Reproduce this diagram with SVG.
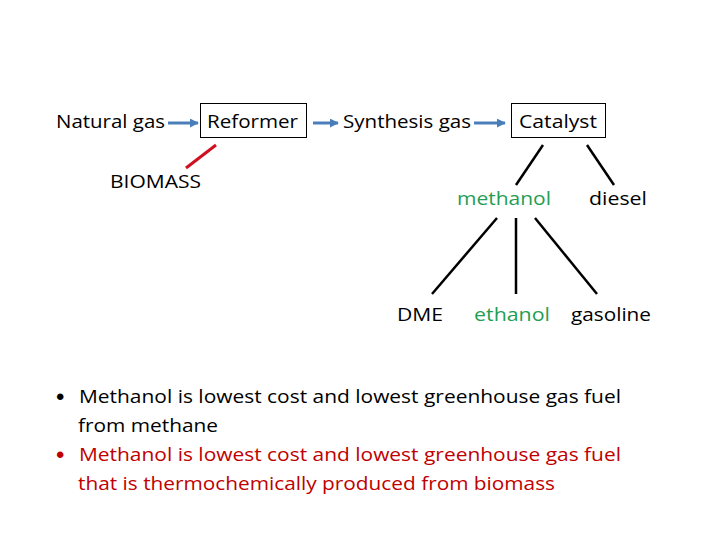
<svg xmlns="http://www.w3.org/2000/svg" width="720" height="540" viewBox="0 0 720 540">
<style>
text{font-family:"Open Sans","Liberation Sans",sans-serif;font-size:19px;fill:#000}
.b{font-family:"Liberation Sans",sans-serif;font-size:24px}
.g{fill:#1f9e55}
.r{fill:#c00000}
.box{fill:#fff;stroke:#000;stroke-width:1}
.ln{stroke:#000;stroke-width:2.5;fill:none}
.ar{stroke:#4a7ebb;stroke-width:3;fill:none}
</style>
<defs>
<marker id="ah" viewBox="0 0 10 10" refX="9" refY="5" markerWidth="3" markerHeight="3" orient="auto" markerUnits="strokeWidth">
<path d="M0,0 L10,5 L0,10 z" fill="#4a7ebb"/>
</marker>
</defs>
<rect width="720" height="540" fill="#fff"/>
<g id="connectors">
<line class="ar" x1="168" y1="123" x2="198" y2="123" marker-end="url(#ah)"/>
<line class="ar" x1="313" y1="123" x2="338" y2="123" marker-end="url(#ah)"/>
<line class="ar" x1="474" y1="123" x2="505" y2="123" marker-end="url(#ah)"/>
<line x1="216" y1="145" x2="186" y2="168" stroke="#d01020" stroke-width="3"/>
<line class="ln" x1="543" y1="145" x2="516" y2="185"/>
<line class="ln" x1="587" y1="145" x2="614" y2="185"/>
<line class="ln" x1="497" y1="218" x2="432" y2="294"/>
<line class="ln" x1="516" y1="218" x2="516" y2="294"/>
<line class="ln" x1="535" y1="218" x2="597" y2="294"/>
</g>
<g id="natural-gas"><text x="56" y="128" textLength="109" lengthAdjust="spacingAndGlyphs">Natural gas</text></g>
<g id="reformer"><rect class="box" x="200.5" y="103.5" width="106" height="34"/><text x="207" y="128" textLength="91" lengthAdjust="spacingAndGlyphs">Reformer</text></g>
<g id="synthesis-gas"><text x="343" y="128" textLength="128" lengthAdjust="spacingAndGlyphs">Synthesis gas</text></g>
<g id="catalyst"><rect class="box" x="511.5" y="103.5" width="94" height="34"/><text x="519" y="128" textLength="78" lengthAdjust="spacingAndGlyphs">Catalyst</text></g>
<g id="biomass"><text x="110" y="188" textLength="91" lengthAdjust="spacingAndGlyphs">BIOMASS</text></g>
<g id="methanol"><text class="g" x="457" y="205" textLength="94" lengthAdjust="spacingAndGlyphs">methanol</text></g>
<g id="diesel"><text x="589" y="205" textLength="58" lengthAdjust="spacingAndGlyphs">diesel</text></g>
<g id="dme"><text x="397" y="321" textLength="46" lengthAdjust="spacingAndGlyphs">DME</text></g>
<g id="ethanol"><text class="g" x="474" y="321" textLength="76" lengthAdjust="spacingAndGlyphs">ethanol</text></g>
<g id="gasoline"><text x="571" y="321" textLength="80" lengthAdjust="spacingAndGlyphs">gasoline</text></g>
<g id="bullets">
<text class="b" x="56" y="405">•</text>
<text x="79" y="403" textLength="542" lengthAdjust="spacingAndGlyphs">Methanol is lowest cost and lowest greenhouse gas fuel</text>
<text x="78" y="432" textLength="140" lengthAdjust="spacingAndGlyphs">from methane</text>
<text class="b r" x="56" y="463">•</text>
<text class="r" x="79" y="461" textLength="542" lengthAdjust="spacingAndGlyphs">Methanol is lowest cost and lowest greenhouse gas fuel</text>
<text class="r" x="78" y="490" textLength="477" lengthAdjust="spacingAndGlyphs">that is thermochemically produced from biomass</text>
</g>
</svg>
